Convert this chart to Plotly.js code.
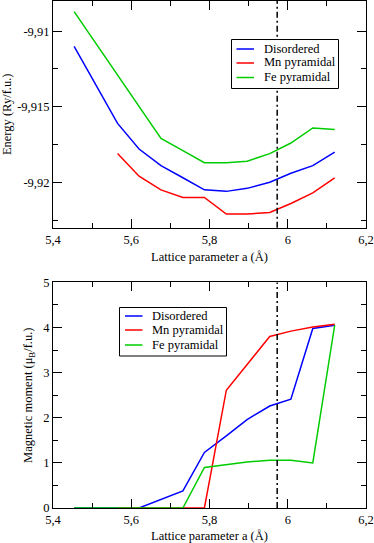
<!DOCTYPE html>
<html>
<head>
<meta charset="utf-8">
<script src="https://cdn.plot.ly/plotly-3.0.1.min.js"></script>
<style>html,body{margin:0;padding:0;background:#fff}#plot{width:374px;height:543px}</style>
</head>
<body>
<div id="plot"></div>
<script>
// lattice parameter grid (Å)
const aDis = [5.454, 5.565, 5.620, 5.676, 5.732, 5.787, 5.843, 5.896, 5.954, 6.008, 6.064, 6.120];
const aMn  = [5.565, 5.620, 5.676, 5.732, 5.787, 5.843, 5.896, 5.954, 6.008, 6.064, 6.120];
const aFe  = [5.454, 5.676, 5.732, 5.787, 5.843, 5.896, 5.954, 6.008, 6.064, 6.120];

// energies (Ry/f.u.)
const eDis = [-9.9110, -9.9161, -9.9178, -9.9189, -9.9197, -9.9205, -9.9206, -9.9204, -9.9200, -9.9194, -9.9189, -9.9180];
const eMn  = [-9.9181, -9.9196, -9.9205, -9.9210, -9.9210, -9.9221, -9.9221, -9.9220, -9.9214, -9.9207, -9.9197];
const eFe  = [-9.9087, -9.9171, -9.9179, -9.9187, -9.9187, -9.9186, -9.9181, -9.9174, -9.9164, -9.9165];

// magnetic moments (muB/f.u.)
const aDisM = [5.454, 5.565, 5.620, 5.732, 5.787, 5.843, 5.896, 5.954, 6.008, 6.064, 6.120];
const mDis  = [0, 0, 0, 0.38, 1.23, 1.60, 1.96, 2.26, 2.41, 3.98, 4.05];
const mMn   = [0, 0, 0, 0, 0, 2.61, 3.17, 3.80, 3.92, 4.01, 4.07];
const aFeM  = [5.454, 5.565, 5.620, 5.676, 5.732, 5.787, 5.843, 5.896, 5.954, 6.008, 6.064, 6.120];
const mFe   = [0, 0, 0, 0, 0, 0.90, 0.96, 1.02, 1.06, 1.06, 1.00, 4.05];

const aExp = 5.973; // experimental lattice parameter (dash-dot line)

const names = ['Disordered', 'Mn pyramidal', 'Fe pyramidal'];
const colors = ['#0000ff', '#ff0000', '#00cc00'];

const xTicks = [5.4, 5.6, 5.8, 6.0, 6.2];
const xTickText = ['5,4', '5,6', '5,8', '6', '6,2'];
const eTicks = [-9.91, -9.915, -9.92];
const eTickText = ['-9,91', '-9,915', '-9,92'];
const mTicks = [0, 1, 2, 3, 4, 5];
const mTickText = ['0', '1', '2', '3', '4', '5'];

const FONT = '"Liberation Serif", "Times New Roman", serif';
const ln = (c) => ({color: c, width: 1.5});

const traces = [
  {x: aDis, y: eDis, name: names[0], line: ln(colors[0])},
  {x: aMn,  y: eMn,  name: names[1], line: ln(colors[1])},
  {x: aFe,  y: eFe,  name: names[2], line: ln(colors[2])},
  {x: aDisM, y: mDis, name: names[0], line: ln(colors[0]), xaxis: 'x2', yaxis: 'y2'},
  {x: aMn,   y: mMn,  name: names[1], line: ln(colors[1]), xaxis: 'x2', yaxis: 'y2'},
  {x: aFeM,  y: mFe,  name: names[2], line: ln(colors[2]), xaxis: 'x2', yaxis: 'y2'}
].map(t => ({...t, type: 'scatter', mode: 'lines', showlegend: false}));

const axBase = {
  showgrid: false, zeroline: false, showline: true, linecolor: '#000', linewidth: 1,
  mirror: 'allticks', ticks: 'inside', ticklen: 9, tickcolor: '#000', tickwidth: 1,
  tickfont: {family: FONT, size: 12.5, color: '#000'}
};
const titleFont = {family: FONT, size: 12.5, color: '#000'};
const xAx = (anchor) => ({
  ...axBase, anchor, range: [5.4, 6.2], tickmode: 'array', tickvals: xTicks, ticktext: xTickText,
  minor: {dtick: 0.1, ticklen: 5, ticks: 'inside', tickcolor: '#000', tickwidth: 1},
  title: {text: 'Lattice parameter a (Å)', font: titleFont, standoff: 6}
});

// plot area in pixels: left 53, right 366, top 1, bottom 508
const M = {l: 53, r: 8, t: 1, b: 35};
const W = 374, H = 543;
const px = (x) => (x - M.l) / (W - M.l - M.r);
const py = (y) => (H - M.b - y) / (H - M.t - M.b);

// hand-built legend boxes, like the xmgrace original
function legend(left, top, rowY, sampleX0, sampleX1, textX, w, h) {
  const shapes = [{type: 'rect', xref: 'paper', yref: 'paper',
    x0: px(left), x1: px(left + w), y0: py(top), y1: py(top + h),
    fillcolor: '#fff', line: {color: '#000', width: 1}, layer: 'above'}];
  const anns = [];
  names.forEach((n, i) => {
    shapes.push({type: 'line', xref: 'paper', yref: 'paper',
      x0: px(sampleX0), x1: px(sampleX1), y0: py(rowY[i]), y1: py(rowY[i]),
      line: {color: colors[i], width: 1.5}, layer: 'above'});
    anns.push({xref: 'paper', yref: 'paper', x: px(textX), y: py(rowY[i] - 0.5),
      xanchor: 'left', yanchor: 'middle', showarrow: false, text: n,
      font: {family: FONT, size: 12.5, color: '#000'}});
  });
  return {shapes, anns};
}
const leg1 = legend(231.5, 39.5, [49, 63, 77.5], 236.5, 254, 262, 107, 49);
const leg2 = legend(119.5, 307.5, [316, 330, 345], 125, 142.5, 150, 107, 48.5);

const dashLine = (xr, yr) => ({type: 'line', xref: xr, yref: yr + ' domain', x0: aExp, x1: aExp, y0: 0, y1: 1,
  line: {color: '#000', width: 1.5, dash: '6px,3px,2px,3px'}});

const layout = {
  width: W, height: H,
  margin: M,
  paper_bgcolor: '#fff', plot_bgcolor: '#fff',
  font: {family: FONT, color: '#000'},
  showlegend: false,
  xaxis: xAx('y'),
  yaxis: {...axBase, domain: [0.553, 1], range: [-9.923, -9.908],
    tickmode: 'array', tickvals: eTicks, ticktext: eTickText,
    minor: {dtick: 0.0025, tick0: -9.92, ticklen: 5, ticks: 'inside', tickcolor: '#000', tickwidth: 1},
    title: {text: 'Energy (Ry/f.u.)', font: titleFont, standoff: 7}},
  xaxis2: xAx('y2'),
  yaxis2: {...axBase, domain: [0, 0.445], range: [0, 5],
    tickmode: 'array', tickvals: mTicks, ticktext: mTickText,
    minor: {dtick: 0.5, ticklen: 5, ticks: 'inside', tickcolor: '#000', tickwidth: 1},
    title: {text: 'Magnetic moment (μ<sub>B</sub>/f.u.)', font: titleFont, standoff: 7}},
  shapes: [dashLine('x', 'y'), dashLine('x2', 'y2'), ...leg1.shapes, ...leg2.shapes],
  annotations: [...leg1.anns, ...leg2.anns]
};

Plotly.newPlot('plot', traces, layout, {displayModeBar: false, staticPlot: true});
</script>
</body>
</html>
